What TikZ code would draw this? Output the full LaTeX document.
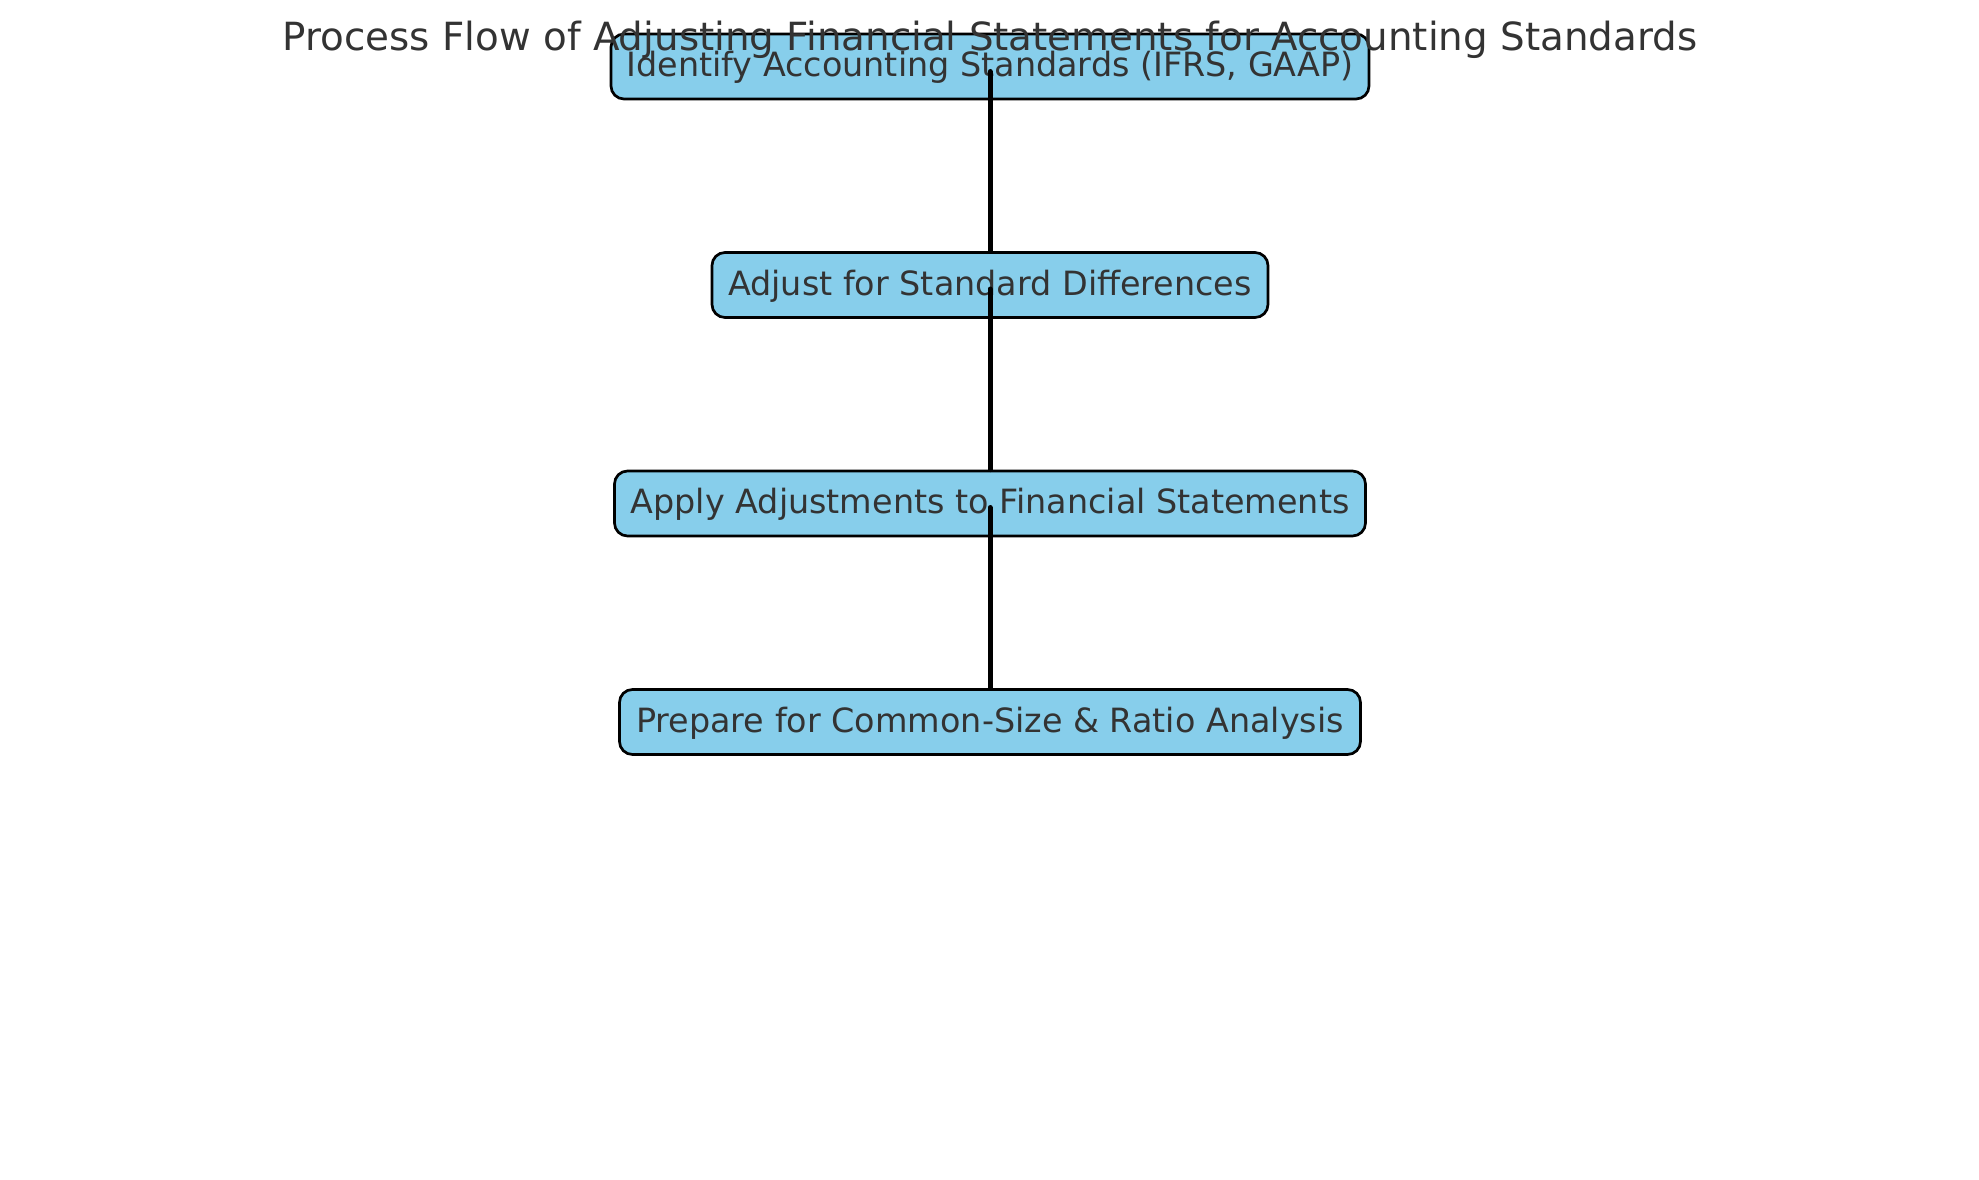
\documentclass[tikz,border=0pt]{standalone}
\usepackage{fontspec}
\setmainfont{DejaVu Sans}
\definecolor{sky}{HTML}{87CEEB}
\definecolor{txt}{HTML}{333333}
\begin{document}
\begin{tikzpicture}[x=1pt,y=-1pt,
  box/.style={draw=black, line width=2.7pt, fill=sky, rounded corners=13pt,
    minimum height=65pt, inner xsep=0pt, inner ysep=0pt, text=txt,
    text height=27pt, text depth=7pt,
    font=\fontsize{33.4}{39}\selectfont},
  conn/.style={line width=5pt, draw=black, line cap=round},
  ttl/.style={text=txt, anchor=base, inner sep=0pt, font=\fontsize{38.8}{44}\selectfont}]
\useasboundingbox (0,0) rectangle (1979,1180);
\fill[white] (0,0) rectangle (1979,1180);
\node[box, minimum width=758pt] (b1) at (990,66.5) {Identify Accounting Standards (IFRS, GAAP)};
\node[box, minimum width=556pt] (b2) at (990,285) {Adjust for Standard Differences};
\node[box, minimum width=751pt] (b3) at (990,503.5) {Apply Adjustments to Financial Statements};
\node[box, minimum width=741pt] (b4) at (990,722) {Prepare for Common-Size \& Ratio Analysis};
\draw[conn] ([yshift=-5pt]b1.center) -- (b2.north);
\draw[conn] ([yshift=-4pt]b2.center) -- (b3.north);
\draw[conn] ([yshift=-4pt]b3.center) -- (b4.north);
\node[ttl] (title) at (990,50.7) {Process Flow of Adjusting Financial Statements for Accounting Standards};
\end{tikzpicture}
\end{document}
